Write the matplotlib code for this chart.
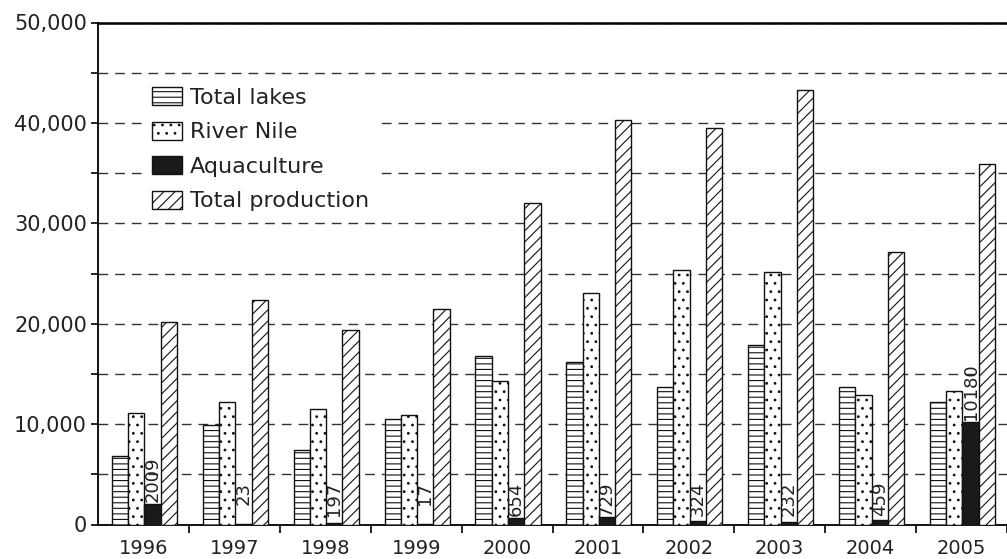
import matplotlib
matplotlib.use("Agg")
import matplotlib.pyplot as plt
import numpy as np

# Fish production by source, 1996-2005
years = ["1996", "1997", "1998", "1999", "2000", "2001", "2002", "2003", "2004", "2005"]
total_lakes = [6850, 9950, 7450, 10500, 16800, 16200, 13700, 17900, 13650, 12200]
river_nile = [11150, 12200, 11550, 10900, 14300, 23100, 25300, 25100, 12900, 13300]
aquaculture = [2009, 23, 197, 17, 654, 729, 324, 232, 459, 10180]
total_production = [20150, 22400, 19400, 21450, 32050, 40300, 39500, 43300, 27100, 35900]

series_names = ["Total lakes", "River Nile", "Aquaculture", "Total production"]
y_ticks = [0, 10000, 20000, 30000, 40000, 50000]
y_ticklabels = ["0", "10,000", "20,000", "30,000", "40,000", "50,000"]

plt.rcParams['font.family'] = ['DejaVu Sans']
plt.rcParams['hatch.linewidth'] = 0.8

fig = plt.figure(figsize=(10.07, 5.59), dpi=100)
ax = fig.add_axes([98 / 1007, (559 - 524.5) / 559, (1007 - 98) / 1007, (524.5 - 22.5) / 559])

x = np.arange(len(years))
w = 0.179
shift = 0.01
styles = [
    dict(facecolor="white", hatch="---"),
    dict(facecolor="white", hatch=".."),
    dict(facecolor="#1a1a1a", hatch=None),
    dict(facecolor="white", hatch="///"),
]
data = [total_lakes, river_nile, aquaculture, total_production]

for k, (vals, name, st) in enumerate(zip(data, series_names, styles)):
    ax.bar(x + shift + (k - 1.5) * w, vals, w, label=name, edgecolor="#111111",
           linewidth=1.0, zorder=3, **st)

# value labels for aquaculture, written upright in the slot
for xi, v in zip(x, aquaculture):
    xpos = x[xi] + shift + 0.5 * w
    if v > 1000:
        ax.text(xpos, v + 250, str(v), rotation=90, ha="center", va="bottom",
                fontsize=13, color="#222222", zorder=4)
    else:
        ax.text(xpos, 4250, str(v), rotation=90, ha="center", va="top",
                fontsize=13, color="#222222", zorder=4)

ax.set_xlim(-0.5, (1007 - 98) / 92 - 0.5)
ax.set_ylim(0, 50000)

ax.set_yticks(y_ticks)
ax.set_yticklabels(y_ticklabels, fontsize=15, color="#222222")
ax.set_yticks(np.arange(5000, 50000, 10000), minor=True)
ax.tick_params(axis="y", which="both", direction="out", length=5, width=1.2, pad=3)

ax.set_xticks(x)
ax.set_xticklabels(years, fontsize=14, color="#222222")
ax.set_xticks(np.arange(0.5, 10, 1), minor=True)
ax.tick_params(axis="x", which="major", length=0, pad=10.2)
ax.tick_params(axis="x", which="minor", direction="out", length=6, width=1.2)

ax.yaxis.grid(True, which="both", linestyle=(0, (7, 5)), color="#333333", linewidth=1.0)
ax.set_axisbelow(True)

ax.spines["right"].set_visible(False)
for s in ["left", "bottom"]:
    ax.spines[s].set_linewidth(1.3)
ax.spines["top"].set_linewidth(1.8)

leg = ax.legend(loc="upper left", bbox_to_anchor=(0.0493, 0.889), fontsize=16,
                frameon=True, facecolor="white", edgecolor="none", framealpha=1,
                fancybox=False, borderpad=0.4, handlelength=1.38, handleheight=0.87,
                handletextpad=0.35, labelspacing=0.62, borderaxespad=0)
for t in leg.get_texts():
    t.set_color("#222222")

fig.savefig("out.png", dpi=100)
